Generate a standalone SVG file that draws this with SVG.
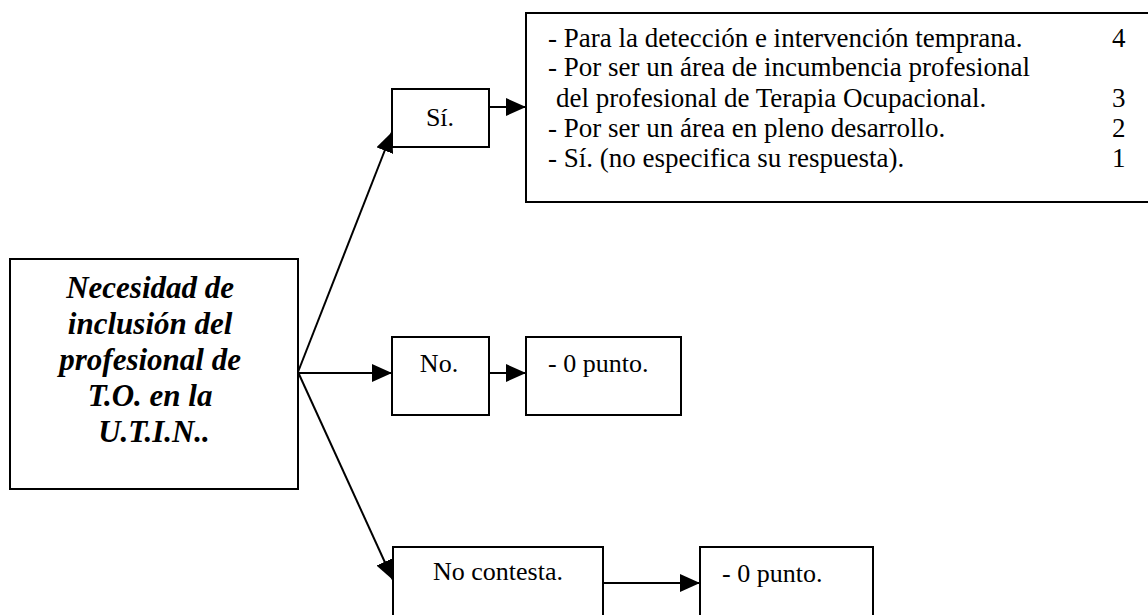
<svg xmlns="http://www.w3.org/2000/svg" width="1148" height="615" viewBox="0 0 1148 615">
<defs>
<style>
.box{fill:#fff;stroke:#000;stroke-width:2}
.t{font-family:"Liberation Serif","Times New Roman",serif;font-size:26px;fill:#000}
.b{font-size:27px}
.m{font-family:"Liberation Serif","Times New Roman",serif;font-size:31px;font-weight:bold;font-style:italic;fill:#000}
.c{fill:none;stroke:#000;stroke-width:2}
</style>
<marker id="ah" viewBox="0 0 20 18" refX="20" refY="9" markerWidth="20" markerHeight="18" markerUnits="userSpaceOnUse" orient="auto">
<path d="M0,0 L20,9 L0,18 Z" fill="#000"/>
</marker>
</defs>
<rect width="1148" height="615" fill="#fff"/>
<g id="connectors">
<line class="c" x1="298" y1="372" x2="392" y2="132" marker-end="url(#ah)"/>
<line class="c" x1="298" y1="373" x2="392" y2="373" marker-end="url(#ah)"/>
<line class="c" x1="298" y1="372" x2="393" y2="580" marker-end="url(#ah)"/>
<line class="c" x1="489" y1="107" x2="526" y2="107" marker-end="url(#ah)"/>
<line class="c" x1="489" y1="373" x2="526" y2="373" marker-end="url(#ah)"/>
<line class="c" x1="603" y1="583" x2="700" y2="583" marker-end="url(#ah)"/>
</g>
<g id="main">
<rect class="box" x="10" y="259" width="288" height="230"/>
<text class="m" text-anchor="middle">
<tspan x="154" y="298">Necesidad de</tspan>
<tspan x="154" y="334">inclusión del</tspan>
<tspan x="154" y="370">profesional de</tspan>
<tspan x="154" y="406">T.O. en la</tspan>
<tspan x="154" y="442">U.T.I.N..</tspan>
</text>
</g>
<g id="si">
<rect class="box" x="392" y="89" width="97" height="58"/>
<text class="t" x="440" y="126" text-anchor="middle">Sí.</text>
</g>
<g id="si-reasons">
<rect class="box" x="526" y="13" width="630" height="189"/>
<text class="t b" x="548" y="47">- Para la detección e intervención temprana.</text>
<text class="t b" x="1112" y="47">4</text>
<text class="t b" x="548" y="76">- Por ser un área de incumbencia profesional</text>
<text class="t b" x="556" y="107">del profesional de Terapia Ocupacional.</text>
<text class="t b" x="1112" y="107">3</text>
<text class="t b" x="548" y="137">- Por ser un área en pleno desarrollo.</text>
<text class="t b" x="1112" y="137">2</text>
<text class="t b" x="548" y="167">- Sí. (no especifica su respuesta).</text>
<text class="t b" x="1112" y="167">1</text>
</g>
<g id="no">
<rect class="box" x="392" y="337" width="97" height="78"/>
<text class="t" x="439" y="372" text-anchor="middle">No.</text>
</g>
<g id="no-points">
<rect class="box" x="526" y="337" width="155" height="78"/>
<text class="t" x="548" y="372">- 0 punto.</text>
</g>
<g id="nocontesta">
<rect class="box" x="393" y="547" width="210" height="80"/>
<text class="t" x="498" y="580" text-anchor="middle">No contesta.</text>
</g>
<g id="nocontesta-points">
<rect class="box" x="700" y="547" width="173" height="80"/>
<text class="t" x="722" y="582">- 0 punto.</text>
</g>
</svg>
